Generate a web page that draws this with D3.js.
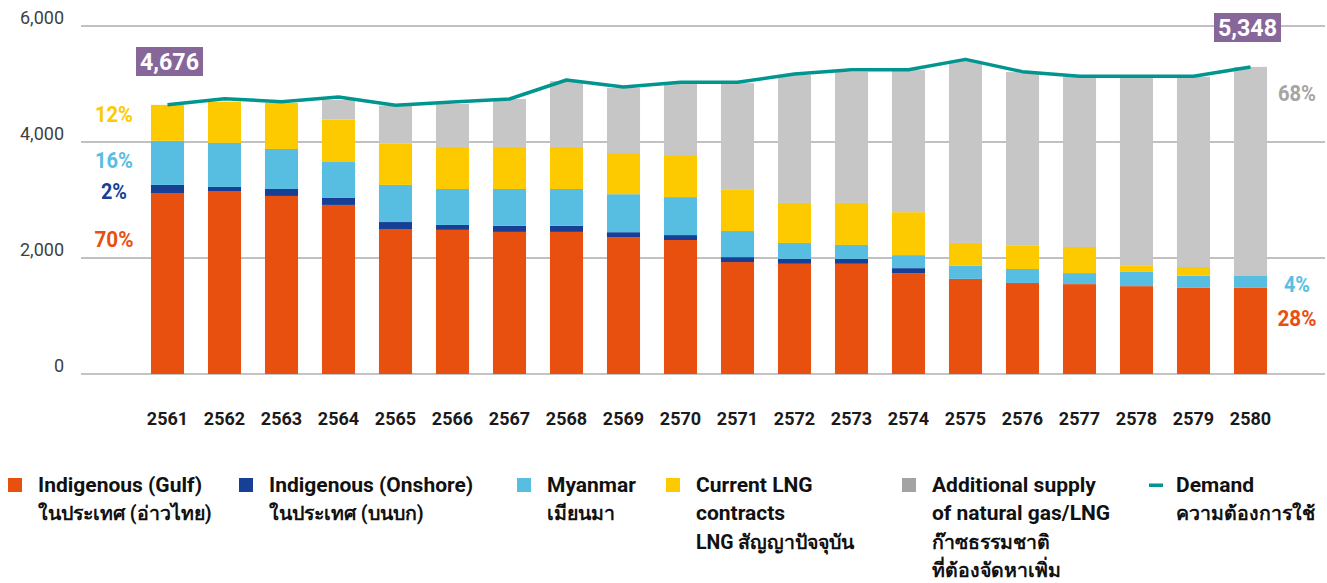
<!DOCTYPE html>
<html>
<head>
<meta charset="utf-8">
<script src="https://cdn.jsdelivr.net/npm/d3@7"></script>
<style>
  html, body { margin: 0; padding: 0; background: #fff; }
  svg { display: block; }
</style>
</head>
<body>
<svg id="chart" width="1327" height="583"></svg>
<script>
// ---- DATA ----
const years = ["2561","2562","2563","2564","2565","2566","2567","2568","2569","2570",
               "2571","2572","2573","2574","2575","2576","2577","2578","2579","2580"];
const gulf       = [3120,3155,3070,2915,2500,2485,2450,2450,2360,2310,1930,1900,1900,1740,1640,1570,1550,1515,1485,1485];
const onshore    = [ 140,  70, 120, 120, 120,  85, 105, 105,  85,  85,  85,  85,  85,  85,   0,   0,   0,   0,   0,   0];
const myanmar    = [ 760, 760, 690, 620, 640, 620, 635, 635, 655, 655, 450, 275, 240, 225, 225, 240, 190, 245, 210, 205];
const lngCurrent = [ 620, 710, 795, 730, 710, 725, 725, 725, 710, 725, 710, 690, 725, 740, 395, 400, 450, 115, 150,   0];
const additional = [   0,   0,   0, 340, 660, 740, 825,1135,1120,1225,1840,2205,2260,2450,3140,2995,2930,3245,3280,3605];
const demand     = [4643,4747,4695,4776,4632,4690,4741,5069,4948,5029,5029,5172,5247,5247,5425,5213,5132,5132,5132,5293];
const yTicks = [0, 2000, 4000, 6000];
const seriesKeys = ["gulf","onshore","myanmar","lngCurrent","additional"];
const seriesColors = ["#E8500F","#173F95","#58BEE1","#FDCA00","#C5C6C5"];
const legendItems = [
  {lines:["Indigenous (Gulf)","ในประเทศ (อ่าวไทย)"], color:"#E8500F", type:"rect"},
  {lines:["Indigenous (Onshore)","ในประเทศ (บนบก)"], color:"#173F95", type:"rect"},
  {lines:["Myanmar","เมียนมา"], color:"#58BEE1", type:"rect"},
  {lines:["Current LNG","contracts","LNG สัญญาปัจจุบัน"], color:"#FDCA00", type:"rect"},
  {lines:["Additional supply","of natural gas/LNG","ก๊าซธรรมชาติ","ที่ต้องจัดหาเพิ่ม"], color:"#A3A3A3", type:"rect"},
  {lines:["Demand","ความต้องการใช้"], color:"#00968F", type:"line"}
];
const leftPct  = [{t:"12%",c:"#FDCA00",y:121.5,w:38},{t:"16%",c:"#58BEE1",y:167.5,w:38},{t:"2%",c:"#173F95",y:199,w:26},{t:"70%",c:"#E8500F",y:246.5,w:39}];
const rightPct = [{t:"68%",c:"#A5A5A5",y:101,w:38},{t:"4%",c:"#58BEE1",y:292,w:26},{t:"28%",c:"#E8500F",y:326,w:39}];
const callouts = ["4,676","5,348"];

// ---- LAYOUT ----
const svg = d3.select("#chart");
const font = "Roboto, 'Noto Sans', 'DejaVu Sans', sans-serif";

const x = d3.scaleBand().domain(years).range([139, 1279]).paddingInner(0.42).paddingOuter(0.21);
const y = d3.scaleLinear().domain([0, 6000]).range([374, 26]);
const gridX0 = 81, gridX1 = 1325;

// gridlines
svg.append("g").selectAll("line").data(yTicks).join("line")
  .attr("x1", gridX0).attr("x2", gridX1)
  .attr("y1", d => y(d)).attr("y2", d => y(d))
  .attr("stroke", d => d === 0 ? "#C4C4C4" : "#ADADAD")
  .attr("stroke-width", d => d === 0 ? 2 : 1.5);

// y tick labels
svg.append("g").selectAll("text").data(yTicks).join("text")
  .attr("x", 64).attr("y", d => y(d) - 2)
  .attr("text-anchor", "end")
  .attr("font-family", font).attr("font-size", 18).attr("fill", "#3f3f3f")
  .text(d => d3.format(",")(d));

// stacked bars
const rows = years.map((yr, i) => ({year: yr, gulf: gulf[i], onshore: onshore[i], myanmar: myanmar[i], lngCurrent: lngCurrent[i], additional: additional[i]}));
const stack = d3.stack().keys(seriesKeys)(rows);
svg.append("g").selectAll("g").data(stack).join("g")
  .attr("fill", (d, i) => seriesColors[i])
  .selectAll("rect").data(d => d).join("rect")
  .attr("x", d => x(d.data.year))
  .attr("width", x.bandwidth())
  .attr("y", d => y(d[1]))
  .attr("height", d => Math.max(0, y(d[0]) - y(d[1])));

// demand line
const line = d3.line().x((d, i) => x(years[i]) + x.bandwidth() / 2).y(d => y(d));
svg.append("path").datum(demand)
  .attr("d", line).attr("fill", "none")
  .attr("stroke", "#00968F").attr("stroke-width", 3.5).attr("stroke-linejoin", "round");

// x labels
svg.append("g").selectAll("text").data(years).join("text")
  .attr("x", d => x(d) + x.bandwidth() / 2).attr("y", 425)
  .attr("text-anchor", "middle")
  .attr("font-family", font).attr("font-size", 18).attr("font-weight", "bold").attr("fill", "#1a1a1a")
  .text(d => d);

// percentage labels (condensed look via textLength)
function pctLabels(data, cx) {
  svg.append("g").selectAll("text").data(data).join("text")
    .attr("x", cx).attr("y", d => d.y).attr("text-anchor", "middle")
    .attr("font-family", font).attr("font-size", 22).attr("font-weight", "bold")
    .attr("textLength", d => d.w).attr("lengthAdjust", "spacingAndGlyphs")
    .attr("fill", d => d.c).text(d => d.t);
}
pctLabels(leftPct, 114);
pctLabels(rightPct, 1297);

// callout boxes
const calloutPos = [{x0:136, y0:47, w:67, h:29}, {x0:1214, y0:13, w:67, h:29}];
callouts.forEach((t, i) => {
  const p = calloutPos[i];
  svg.append("rect").attr("x", p.x0).attr("y", p.y0).attr("width", p.w).attr("height", p.h).attr("fill", "#876699");
  svg.append("text").attr("x", p.x0 + p.w / 2).attr("y", p.y0 + 23.2).attr("text-anchor", "middle")
    .attr("font-family", font).attr("font-size", 24).attr("font-weight", "bold").attr("fill", "#fff")
    .attr("textLength", 59).attr("lengthAdjust", "spacingAndGlyphs")
    .text(t);
});

// legend
const legendX = [8, 239, 517, 666, 902, 1149];
const thai = /[\u0E00-\u0E7F]/;
const lg = svg.append("g");
legendItems.forEach((item, i) => {
  const gx = legendX[i];
  if (item.type === "rect") {
    lg.append("rect").attr("x", gx).attr("y", 478).attr("width", 14).attr("height", 14).attr("fill", item.color);
  } else {
    lg.append("rect").attr("x", gx).attr("y", 483.5).attr("width", 14).attr("height", 3.5).attr("fill", item.color);
  }
  const tx = item.type === "rect" ? gx + 30 : gx + 27;
  item.lines.forEach((ln, j) => {
    lg.append("text").attr("x", tx).attr("y", 492 + j * 28.3)
      .attr("font-family", font).attr("font-size", thai.test(ln) ? 19.5 : 21).attr("font-weight", "bold").attr("fill", "#111")
      .text(ln);
  });
});
</script>
</body>
</html>
